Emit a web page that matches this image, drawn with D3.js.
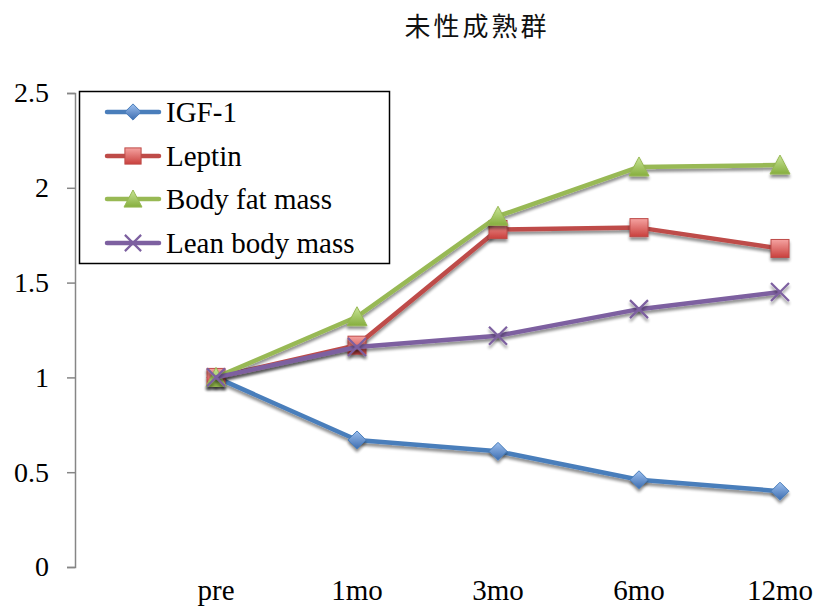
<!DOCTYPE html>
<html>
<head>
<meta charset="utf-8">
<script src="https://cdn.jsdelivr.net/npm/d3@7"></script>
<style>
  html, body { margin: 0; padding: 0; background: #fff; }
  svg { display: block; }
</style>
</head>
<body>
<svg id="chart" width="819" height="615"></svg>
<script>
// Chart data
const title = "未性成熟群";
const categories = ["pre", "1mo", "3mo", "6mo", "12mo"];
const yTicks = [0, 0.5, 1, 1.5, 2, 2.5];
const seriesNames = ["IGF-1", "Leptin", "Body fat mass", "Lean body mass"];
const igf1 = [1, 0.67, 0.61, 0.46, 0.40];
const leptin = [1, 1.17, 1.78, 1.79, 1.68];
const bodyFat = [1, 1.32, 1.85, 2.11, 2.12];
const leanMass = [1, 1.16, 1.22, 1.36, 1.45];

const series = [
  { name: seriesNames[0], values: igf1, color: "#4a7ebb", light: "#9dc0ef", dark: "#3d6db0", marker: "diamond" },
  { name: seriesNames[1], values: leptin, color: "#be4b48", light: "#f5a3a1", dark: "#c9403d", marker: "square" },
  { name: seriesNames[2], values: bodyFat, color: "#98b954", light: "#c9e597", dark: "#86ae3e", marker: "triangle" },
  { name: seriesNames[3], values: leanMass, color: "#7d60a0", light: "#7d60a0", dark: "#7d60a0", marker: "cross" }
];

const svg = d3.select("#chart");
const serif = "'Liberation Serif', 'DejaVu Serif', serif";

// Plot geometry
const plotLeft = 75, plotRight = 780, plotTop = 93, plotBottom = 567;

// A leading empty slot keeps the first category one step in from the axis
const x = d3.scalePoint().domain(["", ...categories]).range([plotLeft, plotRight]);
const y = d3.scaleLinear().domain([0, 2.5]).range([plotBottom, plotTop]);

const defs = svg.append("defs");
const shadow = defs.append("filter").attr("id", "shadow")
  .attr("x", "-50%").attr("y", "-50%").attr("width", "200%").attr("height", "200%");
shadow.append("feGaussianBlur").attr("in", "SourceAlpha").attr("stdDeviation", 1.8).attr("result", "b");
shadow.append("feOffset").attr("in", "b").attr("dx", 0).attr("dy", 3).attr("result", "o");
shadow.append("feComponentTransfer").attr("in", "o").attr("result", "s")
  .append("feFuncA").attr("type", "linear").attr("slope", 0.45);
const merge = shadow.append("feMerge");
merge.append("feMergeNode").attr("in", "s");
merge.append("feMergeNode").attr("in", "SourceGraphic");

series.forEach((s, i) => {
  const g = defs.append("linearGradient").attr("id", "grad" + i)
    .attr("x1", 0).attr("y1", 0).attr("x2", 0).attr("y2", 1);
  g.append("stop").attr("offset", "0%").attr("stop-color", s.light);
  g.append("stop").attr("offset", "100%").attr("stop-color", s.dark);
});

// Title
svg.append("text")
  .attr("x", 477).attr("y", 36)
  .attr("text-anchor", "middle")
  .style("font-family", "'Noto Sans CJK JP', sans-serif")
  .style("font-size", "26px")
  .style("letter-spacing", "3px")
  .style("fill", "#111")
  .text(title);

// Y axis
const yAxis = svg.append("g")
  .attr("transform", `translate(${plotLeft},0)`)
  .call(d3.axisLeft(y).tickValues(yTicks).tickSize(8).tickPadding(18)
    .tickFormat(d => d3.format("")(d)));
yAxis.select(".domain").attr("stroke", "#868686").attr("stroke-width", 1.5);
yAxis.selectAll(".tick line").attr("stroke", "#868686").attr("stroke-width", 1.5);
yAxis.selectAll(".tick text")
  .style("font-family", serif).style("font-size", "28px").style("fill", "#000");

// X category labels (no axis line)
svg.append("g").selectAll("text")
  .data(categories)
  .join("text")
  .attr("x", d => x(d))
  .attr("y", 600)
  .attr("text-anchor", "middle")
  .style("font-family", serif).style("font-size", "29px").style("fill", "#000")
  .text(d => d);

function drawMarker(sel, s, i, size) {
  const k = size || 1;
  if (s.marker === "diamond") {
    const r = 9 * k;
    sel.append("path").attr("d", `M0,${-r}L${r},0L0,${r}L${-r},0Z`)
      .attr("fill", `url(#grad${i})`).attr("stroke", s.color).attr("stroke-width", 1);
  } else if (s.marker === "square") {
    const r = 9 * k;
    sel.append("rect").attr("x", -r).attr("y", -r).attr("width", 2 * r).attr("height", 2 * r)
      .attr("fill", `url(#grad${i})`).attr("stroke", s.color).attr("stroke-width", 1);
  } else if (s.marker === "triangle") {
    const r = 10 * k;
    sel.append("path").attr("d", `M0,${-r}L${r},${r * 0.9}L${-r},${r * 0.9}Z`)
      .attr("fill", `url(#grad${i})`).attr("stroke", s.color).attr("stroke-width", 1);
  } else {
    const r = 9 * k;
    sel.append("path").attr("d", `M${-r},${-r}L${r},${r}M${-r},${r}L${r},${-r}`)
      .attr("fill", "none").attr("stroke", s.color).attr("stroke-width", 2.2);
  }
}

const line = d3.line().x((d, j) => x(categories[j])).y(d => y(d));

// Series lines and markers
series.forEach((s, i) => {
  const g = svg.append("g");
  g.append("path")
    .attr("d", line(s.values))
    .attr("fill", "none")
    .attr("stroke", s.color)
    .attr("stroke-width", 4.5)
    .attr("stroke-linejoin", "round")
    .attr("filter", "url(#shadow)");
  g.selectAll("g.pt")
    .data(s.values)
    .join("g")
    .attr("class", "pt")
    .attr("transform", (d, j) => `translate(${x(categories[j])},${y(d)})`)
    .attr("filter", "url(#shadow)")
    .each(function () { drawMarker(d3.select(this), s, i); });
});

// Legend
const legend = svg.append("g");
legend.append("rect")
  .attr("x", 79.5).attr("y", 91.5).attr("width", 310).attr("height", 172)
  .attr("fill", "#fff").attr("stroke", "#000").attr("stroke-width", 1.5);
const rowY = [112, 156, 199, 243];
series.forEach((s, i) => {
  const row = legend.append("g");
  row.append("line")
    .attr("x1", 107).attr("x2", 159).attr("y1", rowY[i]).attr("y2", rowY[i])
    .attr("stroke", s.color).attr("stroke-width", 4.5).attr("stroke-linecap", "round");
  const m = row.append("g").attr("transform", `translate(133,${rowY[i]})`);
  drawMarker(m, s, i, 0.9);
  row.append("text")
    .attr("x", 166).attr("y", rowY[i] + 10)
    .style("font-family", serif).style("font-size", "29px").style("fill", "#000")
    .text(s.name);
});
</script>
</body>
</html>
